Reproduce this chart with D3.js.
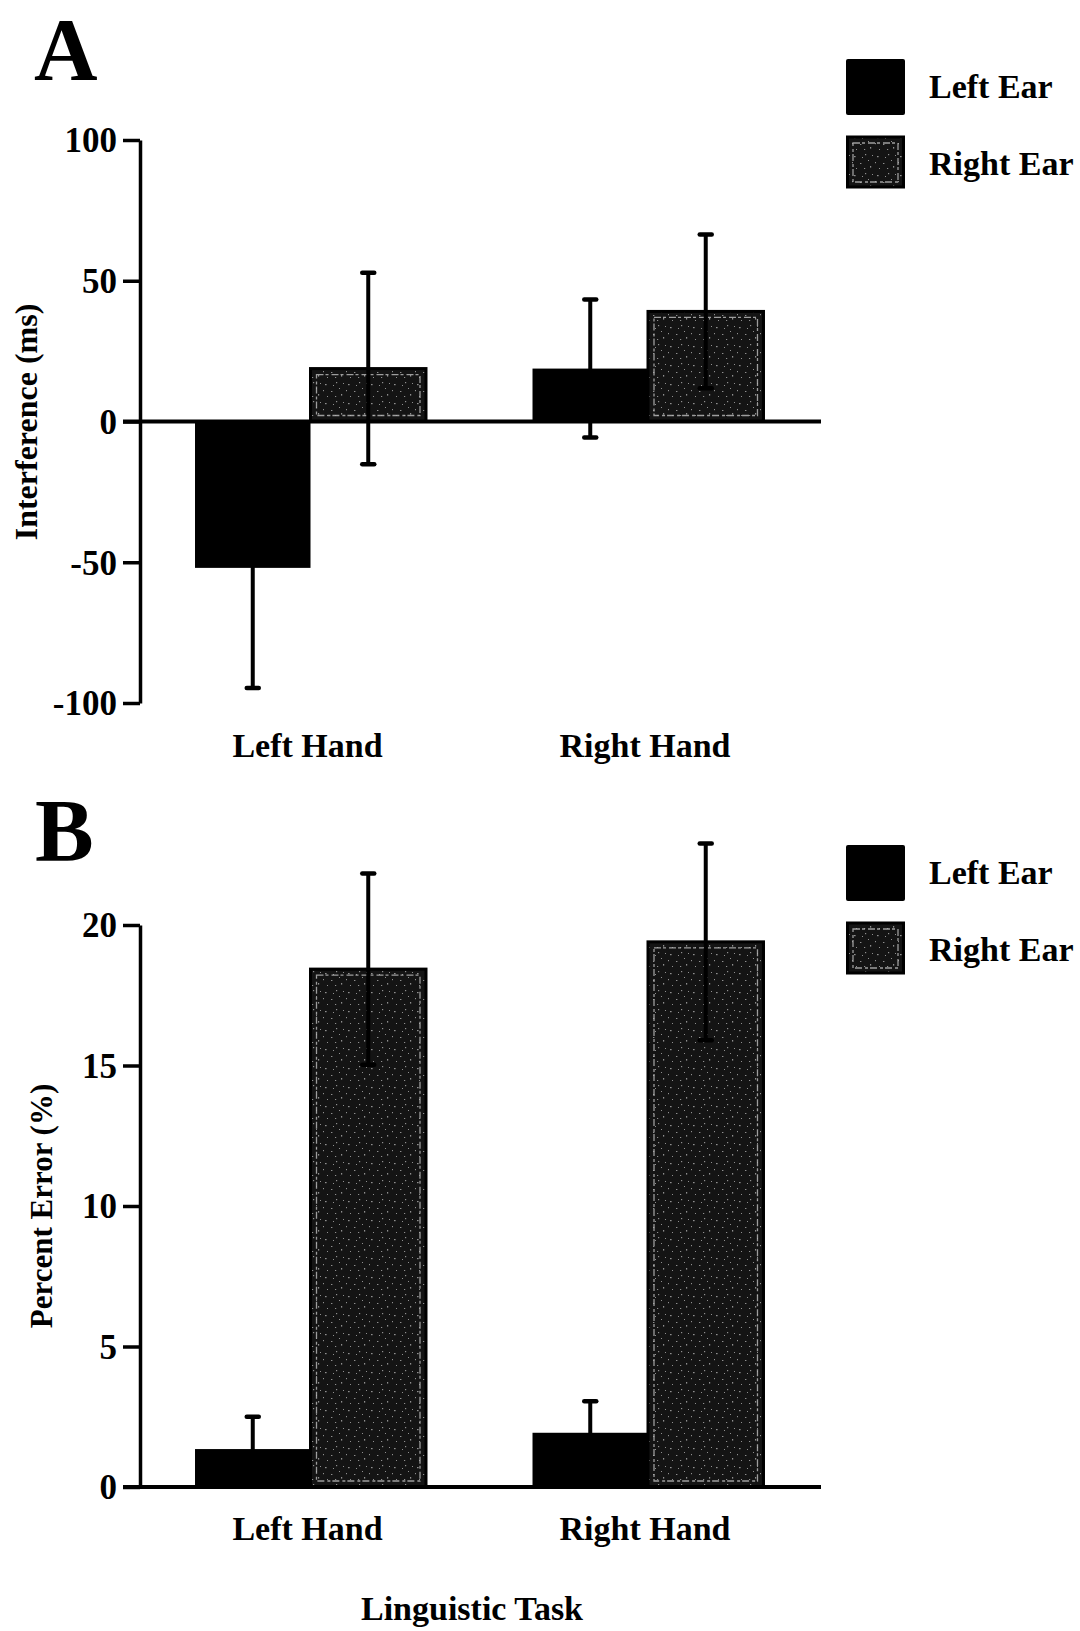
<!DOCTYPE html>
<html>
<head>
<meta charset="utf-8">
<script src="https://cdn.jsdelivr.net/npm/d3@7"></script>
<style>
  html, body { margin: 0; padding: 0; background: #fff; }
  svg { display: block; }
  text { font-family: "Liberation Serif", "Times New Roman", serif; font-weight: bold; fill: #000; }
</style>
</head>
<body>
<svg id="chart" width="1080" height="1631"></svg>
<script>
// ---------- data ----------
const categories = ["Left Hand", "Right Hand"];
const seriesNames = ["Left Ear", "Right Ear"];

// Panel A: Interference (ms)
const interferenceLeftEar = [-52, 18.8];
const interferenceRightEar = [18.8, 39.1];
const interferenceLeftEarErr = [42.7, 24.5];
const interferenceRightEarErr = [34, 27.3];
const ticksA = [-100, -50, 0, 50, 100];

// Panel B: Percent Error (%)
const errorLeftEar = [1.35, 1.93];
const errorRightEar = [18.43, 19.4];
const errorLeftEarErr = [1.15, 1.12];
const errorRightEarErr = [3.4, 3.5];
const ticksB = [0, 5, 10, 15, 20];

// ---------- drawing ----------
const svg = d3.select("#chart");
const defs = svg.append("defs");

// speckled texture for the "Right Ear" fill
const pat = defs.append("pattern")
  .attr("id", "speckle").attr("patternUnits", "userSpaceOnUse")
  .attr("width", 23).attr("height", 19);
pat.append("rect").attr("width", 23).attr("height", 19).attr("fill", "#141414");
[[3,4,1.6,1.2],[14,2,1.2,1.2],[9,11,1.4,1.0],[19,14,1.2,1.6],[5,16,1.0,1.0],[17,8,1.0,1.0],
 [11,5,1.0,1.0],[1,10,1.0,1.2],[21,3,1.0,1.0],[13,16,1.2,1.0]]
  .forEach(([x,y,w,h]) => pat.append("rect").attr("x", x).attr("y", y).attr("width", w).attr("height", h).attr("fill", "#8f8f8f"));

function drawPanel(cfg) {
  const g = svg.append("g");
  const y = d3.scaleLinear().domain(cfg.domain).range(cfg.yRange);
  const x0 = d3.scaleBand().domain(categories).range(cfg.xRange)
    .paddingInner(cfg.padIn).paddingOuter(cfg.padOut);
  const x1 = d3.scaleBand().domain(seriesNames).range([0, x0.bandwidth()]);

  const rows = [];
  categories.forEach((c, i) => {
    rows.push({cat: c, s: seriesNames[0], v: cfg.left[i], e: cfg.leftErr[i]});
    rows.push({cat: c, s: seriesNames[1], v: cfg.right[i], e: cfg.rightErr[i]});
  });

  // bars
  rows.forEach(d => {
    const bx = x0(d.cat) + x1(d.s), bw = x1.bandwidth();
    const top = Math.min(y(d.v), y(0)), h = Math.abs(y(d.v) - y(0));
    if (d.s === "Left Ear") {
      g.append("rect").attr("x", bx).attr("y", top).attr("width", bw).attr("height", h)
        .attr("fill", "#000");
    } else {
      g.append("rect").attr("x", bx).attr("y", top).attr("width", bw).attr("height", h)
        .attr("fill", "url(#speckle)").attr("stroke", "#000").attr("stroke-width", 3);
      g.append("rect").attr("x", bx + 6).attr("y", top + 6).attr("width", bw - 12).attr("height", Math.max(0, h - 12))
        .attr("fill", "none").attr("stroke", "#b5b5b5").attr("stroke-width", 1.3)
        .attr("stroke-dasharray", "7 2 3 3").attr("opacity", 0.85);
    }
  });

  // error bars (symmetric)
  rows.forEach(d => {
    const cx = x0(d.cat) + x1(d.s) + x1.bandwidth() / 2;
    const hi = y(d.v + d.e), lo = y(d.v - d.e);
    g.append("line").attr("x1", cx).attr("x2", cx).attr("y1", hi).attr("y2", lo)
      .attr("stroke", "#000").attr("stroke-width", 4);
    [hi, lo].forEach(yy => g.append("line").attr("x1", cx - 6).attr("x2", cx + 6)
      .attr("y1", yy).attr("y2", yy).attr("stroke", "#000").attr("stroke-width", 4.5)
      .attr("stroke-linecap", "round"));
  });

  // y axis
  const ax = g.append("g").attr("transform", `translate(${cfg.axisX},0)`)
    .call(d3.axisLeft(y).tickValues(cfg.ticks).tickSize(17).tickSizeOuter(0).tickPadding(6)
      .tickFormat(d => String(d)));
  ax.select(".domain").attr("stroke", "#000").attr("stroke-width", 3.5);
  ax.selectAll(".tick line").attr("stroke", "#000").attr("stroke-width", 3.5);
  ax.selectAll(".tick text").style("font-size", "35px")
    .style("font-family", "'Liberation Serif', serif").style("font-weight", "bold")
    .attr("fill", "#000").attr("dy", "0.34em");

  // zero baseline
  g.append("line").attr("x1", cfg.axisX - 17).attr("x2", cfg.zeroEnd)
    .attr("y1", y(0)).attr("y2", y(0)).attr("stroke", "#000").attr("stroke-width", 4);

  // category labels
  categories.forEach(c => {
    g.append("text").attr("x", x0(c) + x0.bandwidth() / 2 - 3).attr("y", cfg.catY)
      .attr("text-anchor", "middle").style("font-size", "34px").text(c);
  });

  // y label
  g.append("text")
    .attr("transform", `translate(${cfg.yLabelX},${cfg.yLabelY}) rotate(-90)`)
    .attr("text-anchor", "middle").style("font-size", cfg.yLabelSize).text(cfg.yLabel);

  // panel letter
  g.append("text").attr("x", cfg.letterX).attr("y", cfg.letterY)
    .style("font-size", "88px").text(cfg.letter);

  // legend
  g.append("rect").attr("x", 846).attr("y", cfg.legY).attr("width", 59).attr("height", 56)
    .attr("fill", "#000").attr("rx", 2);
  g.append("rect").attr("x", 847.5).attr("y", cfg.legY + 78).attr("width", 56).attr("height", 50)
    .attr("fill", "url(#speckle)").attr("stroke", "#000").attr("stroke-width", 3);
  g.append("rect").attr("x", 853).attr("y", cfg.legY + 84).attr("width", 45).attr("height", 39)
    .attr("fill", "none").attr("stroke", "#b5b5b5").attr("stroke-width", 1.3)
    .attr("stroke-dasharray", "7 2 3 3").attr("opacity", 0.85);
  g.append("text").attr("x", 929).attr("y", cfg.legY + 39).style("font-size", "34px").text(seriesNames[0]);
  g.append("text").attr("x", 929).attr("y", cfg.legY + 116).style("font-size", "34px").text(seriesNames[1]);
}

drawPanel({
  letter: "A", letterX: 34, letterY: 79,
  domain: [-100, 100], yRange: [703, 140], ticks: ticksA,
  xRange: [140, 818.5], padIn: 0.3156, padOut: 0.163,
  axisX: 140, zeroEnd: 821,
  left: interferenceLeftEar, right: interferenceRightEar,
  leftErr: interferenceLeftEarErr, rightErr: interferenceRightEarErr,
  catY: 757, yLabel: "Interference (ms)", yLabelSize: "32px", yLabelX: 37, yLabelY: 422,
  legY: 59
});

drawPanel({
  letter: "B", letterX: 35, letterY: 860,
  domain: [0, 20], yRange: [1487, 925], ticks: ticksB,
  xRange: [140, 818.5], padIn: 0.3156, padOut: 0.163,
  axisX: 140, zeroEnd: 821,
  left: errorLeftEar, right: errorRightEar,
  leftErr: errorLeftEarErr, rightErr: errorRightEarErr,
  catY: 1540, yLabel: "Percent Error (%)", yLabelSize: "31px", yLabelX: 52, yLabelY: 1206,
  legY: 845
});

svg.append("text").attr("x", 472).attr("y", 1620).attr("text-anchor", "middle")
  .style("font-size", "34px").text("Linguistic Task");
</script>
</body>
</html>
